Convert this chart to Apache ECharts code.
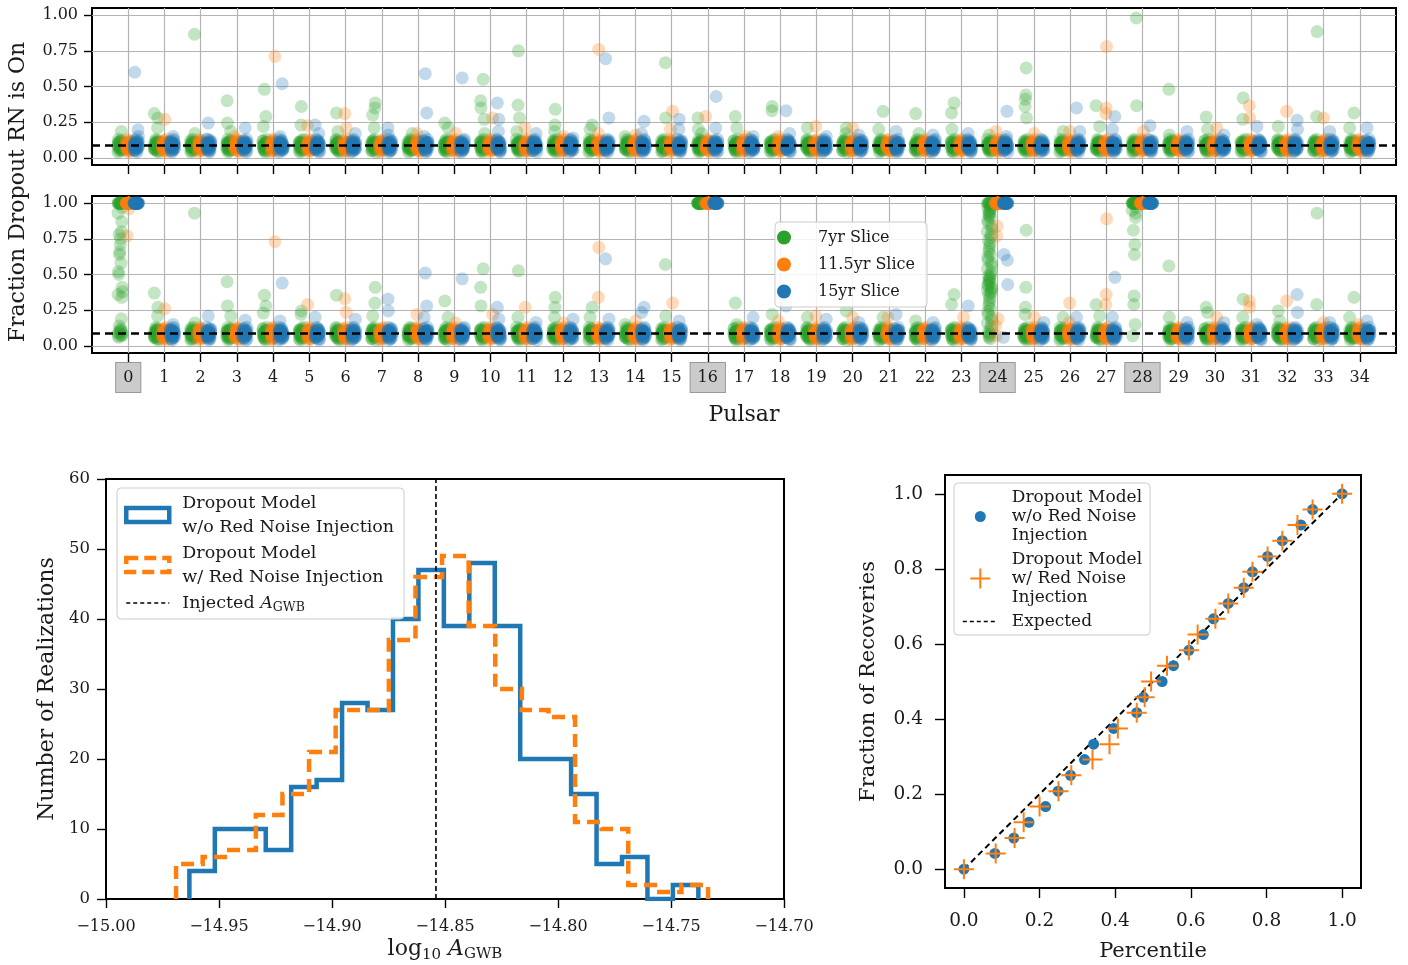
<!DOCTYPE html>
<html><head><meta charset="utf-8">
<script src="https://cdn.jsdelivr.net/npm/echarts@6/dist/echarts.min.js"></script>
<style>html,body{margin:0;padding:0;background:#fff}#c{width:1408px;height:965px}</style>
</head><body><div id="c"></div>
<script>
// ---------------- DATA ----------------
const slices = ['7yr Slice', '11.5yr Slice', '15yr Slice'];
const sliceColors = ['#2ca02c', '#ff7f0e', '#1f77b4'];
const pulsarLabels = ['0','1','2','3','4','5','6','7','8','9','10','11','12','13','14','15','16','17','18','19','20','21','22','23','24','25','26','27','28','29','30','31','32','33','34'];
const pulsarTicks = [0,1,2,3,4,5,6,7,8,9,10,11,12,13,14,15,16,17,18,19,20,21,22,23,24,25,26,27,28,29,30,31,32,33,34];
const highlightedPulsars = [0, 16, 24, 28];
const stripYTicks = [0, 0.25, 0.5, 0.75, 1.0];
const threshold = 0.09;

// typical dense cluster of realizations near the threshold
const coreValues = [0.04,0.05,0.06,0.07,0.08,0.09,0.10,0.11,0.12,0.13,0.05,0.06,0.07,0.08,0.09,0.10,0.11,0.12,0.06,0.07,0.08,0.09,0.10,0.11,0.07,0.08,0.09,0.10];
const allOn = [1,1,1,1,1,1,1,1,1,1,1,1,1,1,1,1,1,1,1,1,1,1,1,1];

// top panel outliers (per pulsar)
const top7 = [[0.185],[0.31,0.28,0.21],[0.866,0.17],[0.40,0.244,0.185],[0.48,0.29,0.22],[0.36,0.23],[0.315,0.185],[0.385,0.35,0.30,0.21],[0.17],[0.244,0.21],
  [0.55,0.40,0.35,0.27,0.17],[0.75,0.37,0.28,0.185],[0.34,0.23,0.185],[0.23,0.20],[0.15],[0.667,0.28],[0.28,0.20,0.17],[0.29,0.21],[0.36,0.33],[0.21],
  [0.21,0.17],[0.326,0.20],[0.31,0.17],[0.385,0.315,0.20],[0.16],[0.63,0.44,0.41,0.36,0.28],[0.185],[0.366,0.22],[0.98,0.366],[0.48,0.16],
  [0.286,0.20],[0.42,0.27],[0.22],[0.885,0.29],[0.315,0.21]];
const top115 = [[],[0.27],[],[0.15],[0.71],[0.225],[0.31,0.21],[],[0.17],[0.17],
  [0.28],[0.21],[0.15],[0.76,0.17],[0.16],[0.326,0.20],[0.29],[0.15],[0.15],[0.22],
  [0.21],[],[],[],[0.185],[0.17],[0.185],[0.78,0.35,0.31],[0.185],[],
  [0.21],[0.366,0.28],[0.326],[0.28],[]];
const top15 = [[0.60,0.197,0.15],[0.15],[0.244,0.13],[0.21],[0.52,0.15],[0.23,0.17],[0.17],[0.21,0.16],[0.59,0.315,0.15],[0.56],
  [0.385,0.27,0.185],[0.17],[0.14],[0.695,0.28],[0.256,0.17],[0.27,0.20],[0.43,0.21],[0.15],[0.33,0.17],[0.15],
  [0.16],[0.185],[0.16],[0.17],[0.326,0.15],[],[0.35,0.185],[0.29,0.20],[0.225],[0.185],
  [0.16],[0.22],[0.263,0.20],[0.185],[0.21]];

// bottom panel outliers (per pulsar; special pulsars given separately)
const bot7 = [[],[0.37,0.27,0.21],[0.93,0.16],[0.45,0.28,0.21],[0.355,0.28,0.23],[0.245,0.22],[0.355],[0.41,0.30,0.21],[],[0.315,0.20],
  [0.54,0.41,0.28],[0.526,0.20],[0.34,0.27,0.20],[0.27,0.20],[0.15],[0.57,0.21],[],[0.30,0.15],[0.22],[0.20],
  [0.245],[0.20],[0.175],[0.36,0.29],[],[0.81,0.41,0.27,0.22],[0.20],[0.29,0.21],[],[0.56,0.20],
  [0.27,0.234],[0.327,0.20],[0.245,0.175],[0.93,0.29],[0.34,0.20]];
const bot115 = [[],[0.26],[],[],[0.73],[0.29],[0.33,0.235],[],[0.22],[0.16],
  [0.22],[0.27],[0.16],[0.69,0.34],[0.175],[0.30],[],[],[0.175],[0.21],
  [0.20],[0.20],[],[0.20],[],[0.20],[0.30,0.164],[0.89,0.36,0.29],[],[],
  [0.20],[0.315,0.27],[0.315],[0.164],[0.15]];
const bot15 = [[],[0.15],[0.21],[0.18],[0.44,0.175],[0.20],[0.187],[0.327,0.245],[0.51,0.28,0.20],[0.47],
  [0.27,0.187],[0.164],[0.187],[0.61,0.187],[0.27,0.234],[0.175],[],[0.20],[0.28],[0.187],
  [0.164],[0.22],[0.164],[0.28],[],[0.164],[0.20],[0.48,0.20],[],[0.164],
  [0.164],[0.15],[0.36,0.234],[0.164],[0.175]];

const bot7Special = {
  0: [1,1,1,1,1,1,1,1,1,1,1,1,0.97,0.93,0.87,0.80,0.78,0.75,0.71,0.66,0.64,0.58,0.52,0.50,0.41,0.38,0.36,0.34,0.19,0.14,0.12,0.11,0.10,0.09,0.08,0.07,0.06,0.10,0.08,0.09,0.07],
  16: allOn,
  24: [1,1,1,1,1,1,1,1,0.99,0.98,0.97,0.96,0.95,0.94,0.93,0.92,0.91,0.90,0.88,0.86,0.84,0.82,0.80,0.78,0.76,0.74,0.72,0.70,0.68,0.66,0.64,0.62,0.60,0.58,0.56,0.54,0.52,0.50,0.49,0.48,0.47,0.46,0.45,0.44,0.43,0.42,0.41,0.40,0.39,0.38,0.37,0.36,0.34,0.32,0.30,0.28,0.26,0.24,0.22,0.20,0.18,0.16,0.14,0.12,0.10,0.09,0.08,0.07,0.06,0.05],
  28: [1,1,1,1,1,1,1,1,1,1,1,1,1,1,1,1,0.97,0.95,0.93,0.90,0.81,0.71,0.64,0.35,0.29,0.15,0.07]
};
const bot115Special = {
  0: allOn.concat([0.96, 0.77]),
  16: allOn,
  24: allOn.concat([0.84, 0.77, 0.19, 0.14, 0.07]),
  28: allOn
};
const bot15Special = {
  0: allOn,
  16: allOn,
  24: allOn.concat([0.64, 0.60, 0.43, 0.06]),
  28: allOn
};

// histogram (20 bins each)
const woRange = [-14.9631, -14.7379];
const woCounts = [4,10,10,7,16,17,28,27,40,47,39,48,39,20,20,15,5,6,0,2];
const wRange = [-14.9690, -14.7336];
const wCounts = [5,6,7,12,15,21,27,27,37,46,49,39,30,27,26,11,10,2,1,2];
const injectedLogA = -14.854;
const histYMax = 60;

// P-P plot
const ppFraction = [0,0.042,0.083,0.125,0.167,0.208,0.25,0.292,0.333,0.375,0.417,0.458,0.5,0.542,0.583,0.625,0.667,0.708,0.75,0.792,0.833,0.875,0.917,0.958,1.0];
const ppPercentileWo = [0,0.082,0.132,0.172,0.216,0.249,0.282,0.319,0.343,0.396,0.457,0.475,0.524,0.554,0.595,0.633,0.660,0.699,0.740,0.763,0.803,0.842,0.891,0.922,1.0];
const ppPercentileW = [0,0.084,0.134,0.158,0.200,0.250,0.284,0.340,0.385,0.407,0.457,0.478,0.495,0.537,0.595,0.618,0.665,0.699,0.740,0.763,0.803,0.842,0.882,0.922,1.0];
const ppTicks = [0, 0.2, 0.4, 0.6, 0.8, 1.0];
const expectedLine = [[0, 0], [1, 1]];

// ---------------- BUILD ----------------
const FONT = 'DejaVu Serif';
const TXT = '#1a1a1a';
const dodge = [-0.22, 0, 0.22];
const jitter = [-0.06, 0.02, -0.03, 0.05, -0.01, 0.04, -0.05, 0.01, 0.06, -0.02, 0.03, -0.04, 0];

function clusterPoints(outliers, special, s) {
  const pts = [];
  outliers.forEach((outl, i) => {
    const vals = special[i] !== undefined ? special[i] : coreValues.concat(outl);
    vals.forEach((v, j) => {
      pts.push([i + dodge[s] + jitter[(j * 5 + i * 3 + s * 7) % jitter.length], v]);
    });
  });
  return pts;
}
function stepLine(range, counts) {
  const w = (range[1] - range[0]) / counts.length;
  const pts = [[range[0], 0]];
  counts.forEach((c, i) => { pts.push([range[0] + i * w, c], [range[0] + (i + 1) * w, c]); });
  pts.push([range[1], 0]);
  return pts;
}

const panelData = [
  [[top7, {}], [top115, {}], [top15, {}]],
  [[bot7, bot7Special], [bot115, bot115Special], [bot15, bot15Special]]
];

const series = [];
panelData.forEach((panel, p) => {
  panel.forEach(([outl, spec], s) => {
    const ser = {
      type: 'scatter', name: slices[s], xAxisIndex: p, yAxisIndex: p,
      data: clusterPoints(outl, spec, s),
      symbol: 'circle', symbolSize: 13,
      itemStyle: { color: sliceColors[s], opacity: 0.28 },
      z: 2, silent: true, progressive: 0, large: false
    };
    if (s === 0) {
      ser.markLine = {
        z: 1, silent: true, symbol: ['none', 'none'], label: { show: false },
        lineStyle: { color: '#b3b3b3', width: 1.2, type: 'solid' },
        data: stripYTicks.map(v => ({ yAxis: v }))
      };
    }
    if (s === 2) {
      ser.markLine = {
        z: 6, silent: true, symbol: ['none', 'none'], label: { show: false },
        lineStyle: { color: '#000', width: 2.6, type: [8, 5] },
        data: [{ yAxis: threshold }]
      };
    }
    series.push(ser);
  });
});

series.push({
  type: 'line', name: 'hist_wo', xAxisIndex: 2, yAxisIndex: 2, data: stepLine(woRange, woCounts),
  symbol: 'none', lineStyle: { color: '#1f77b4', width: 4.5, join: 'miter', cap: 'butt' },
  itemStyle: { color: '#1f77b4' }, z: 2
});
series.push({
  type: 'line', name: 'hist_w', xAxisIndex: 2, yAxisIndex: 2, data: stepLine(wRange, wCounts),
  symbol: 'none', lineStyle: { color: '#ff7f0e', width: 4.5, type: [13, 7], join: 'miter', cap: 'butt' },
  itemStyle: { color: '#ff7f0e' }, z: 3
});
series.push({
  type: 'line', name: 'injected', xAxisIndex: 2, yAxisIndex: 2,
  data: [[injectedLogA, 0], [injectedLogA, histYMax]],
  symbol: 'none', lineStyle: { color: '#000', width: 1.6, type: [5, 3] }, itemStyle: { color: '#000' }, z: 4
});
series.push({
  type: 'line', name: 'expected', xAxisIndex: 3, yAxisIndex: 3, data: expectedLine,
  symbol: 'none', lineStyle: { color: '#000', width: 2, type: [6, 4] }, itemStyle: { color: '#000' }, z: 2
});
series.push({
  type: 'scatter', name: 'pp_wo', xAxisIndex: 3, yAxisIndex: 3,
  data: ppPercentileWo.map((x, i) => [x, ppFraction[i]]),
  symbol: 'circle', symbolSize: 11, itemStyle: { color: '#1f77b4', opacity: 1 }, z: 3
});
const plusPath = 'path://M9,0h2v20h-2zM0,9h20v2h-20z';
series.push({
  type: 'scatter', name: 'pp_w', xAxisIndex: 3, yAxisIndex: 3,
  data: ppPercentileW.map((x, i) => [x, ppFraction[i]]),
  symbol: plusPath, symbolSize: 20, itemStyle: { color: '#ff7f0e', opacity: 1 }, z: 4
});

const baseText = { fontFamily: FONT, color: TXT };
const tick = (len) => ({ show: true, length: len, inside: false, lineStyle: { color: '#000', width: 1.4 } });
const noLine = { show: false, onZero: false };
const minus = (v, d) => (v < 0 ? '\u2212' : '') + Math.abs(v).toFixed(d);

const xAxis = [0, 1].map(p => ({
  gridIndex: p, type: 'value', min: -1, max: 35, interval: 1, position: 'bottom',
  axisLine: noLine,
  axisTick: Object.assign(tick(9), { customValues: pulsarTicks }),
  splitLine: { show: true, lineStyle: { color: '#b3b3b3', width: 1.2 } },
  axisLabel: p === 0 ? { show: false } : {
    show: true, margin: 10, customValues: pulsarTicks,
    formatter: v => highlightedPulsars.indexOf(v) >= 0 ? '{hl|' + pulsarLabels[v] + '}' : '{n|' + pulsarLabels[v] + '}',
    rich: {
      n: { fontFamily: FONT, fontSize: 16, color: TXT, padding: [7, 7, 6, 7] },
      hl: { fontFamily: FONT, fontSize: 16, color: TXT, padding: [7, 7, 6, 7], backgroundColor: '#cbcbcb', borderColor: '#999', borderWidth: 1 }
    }
  },
  name: p === 1 ? 'Pulsar' : '', nameLocation: 'middle', nameGap: 51,
  nameTextStyle: Object.assign({ fontSize: 22 }, baseText)
}));
xAxis.push({
  gridIndex: 2, type: 'value', min: -15, max: -14.7, interval: 0.05, position: 'bottom',
  axisLine: noLine, axisTick: tick(9), splitLine: { show: false },
  axisLabel: Object.assign({ fontSize: 16, margin: 20, formatter: v => minus(v, 2) }, baseText),
  name: 'log{sub|10} {it|A}{sub2|GWB}', nameLocation: 'middle', nameGap: 37,
  nameTextStyle: Object.assign({
    fontSize: 22,
    rich: {
      sub: { fontFamily: FONT, fontSize: 15, color: TXT, lineHeight: 15, padding: [12, 0, 0, 0] },
      it: { fontFamily: FONT, fontSize: 22, fontStyle: 'italic', color: TXT },
      sub2: { fontFamily: FONT, fontSize: 15, color: TXT, lineHeight: 15, padding: [10, 0, 0, 0] }
    }
  }, baseText)
});
xAxis.push({
  gridIndex: 3, type: 'value', min: -0.05, max: 1.05, position: 'bottom',
  axisLine: noLine, axisTick: Object.assign(tick(10), { customValues: ppTicks }), splitLine: { show: false },
  axisLabel: Object.assign({ fontSize: 18.5, margin: 24, customValues: ppTicks, formatter: v => v.toFixed(1) }, baseText),
  name: 'Percentile', nameLocation: 'middle', nameGap: 53,
  nameTextStyle: Object.assign({ fontSize: 21 }, baseText)
});

const yAxis = [0, 1].map(p => ({
  gridIndex: p, type: 'value', min: -0.05, max: 1.05, position: 'left',
  axisLine: noLine,
  axisTick: Object.assign(tick(8), { customValues: stripYTicks }),
  splitLine: { show: false },
  axisLabel: Object.assign({ fontSize: 16, margin: 14, customValues: stripYTicks, formatter: v => v.toFixed(2) }, baseText)
}));
yAxis.push({
  gridIndex: 2, type: 'value', min: 0, max: histYMax, interval: 10, position: 'left',
  axisLine: noLine, axisTick: tick(9), splitLine: { show: false },
  axisLabel: Object.assign({ fontSize: 16.5, margin: 16 }, baseText),
  name: 'Number of Realizations', nameLocation: 'middle', nameGap: 48,
  nameTextStyle: Object.assign({ fontSize: 22 }, baseText)
});
yAxis.push({
  gridIndex: 3, type: 'value', min: -0.05, max: 1.05, position: 'left',
  axisLine: noLine, axisTick: Object.assign(tick(10), { customValues: ppTicks }), splitLine: { show: false },
  axisLabel: Object.assign({ fontSize: 18.5, margin: 22, customValues: ppTicks, formatter: v => v.toFixed(1) }, baseText),
  name: 'Fraction of Recoveries', nameLocation: 'middle', nameGap: 66,
  nameTextStyle: Object.assign({ fontSize: 21 }, baseText)
});

const gridBase = { show: true, borderColor: '#000', borderWidth: 2, backgroundColor: 'transparent', containLabel: false };
const grid = [
  Object.assign({ left: 92, top: 8, width: 1304, height: 157 }, gridBase),
  Object.assign({ left: 92, top: 196, width: 1304, height: 157 }, gridBase),
  Object.assign({ left: 106, top: 479, width: 678, height: 420 }, gridBase),
  Object.assign({ left: 945, top: 475, width: 416, height: 413 }, gridBase)
];

const histLegendText = {
  hist_wo: 'Dropout Model\nw/o Red Noise Injection',
  hist_w: 'Dropout Model\nw/ Red Noise Injection',
  injected: 'Injected {it|A}{sub|GWB}'
};
const ppLegendText = {
  pp_wo: 'Dropout Model\nw/o Red Noise\nInjection',
  pp_w: 'Dropout Model\nw/ Red Noise\nInjection',
  expected: 'Expected'
};
const legendBox = { backgroundColor: 'rgba(255,255,255,0.85)', borderColor: '#cccccc', borderWidth: 1, borderRadius: 4, selectedMode: false, orient: 'vertical' };

const legend = [
  Object.assign({
    left: 775, top: 222, itemWidth: 58, itemHeight: 14, itemGap: 8, padding: [6, 12, 6, 2],
    data: slices.map((n, i) => ({ name: n, icon: 'circle', itemStyle: { color: sliceColors[i], opacity: 1, borderWidth: 0 } })),
    textStyle: { fontFamily: FONT, fontSize: 16, color: TXT, lineHeight: 19 }
  }, legendBox),
  Object.assign({
    left: 117, top: 488, itemWidth: 43, itemHeight: 14, itemGap: 2, padding: [3, 10, 4, 7],
    data: [
      { name: 'hist_wo', icon: 'rect', itemStyle: { color: 'rgba(0,0,0,0)', borderColor: '#1f77b4', borderWidth: 4.5, opacity: 1 } },
      { name: 'hist_w', icon: 'rect', itemStyle: { color: 'rgba(0,0,0,0)', borderColor: '#ff7f0e', borderWidth: 4.5, borderType: [12, 6], opacity: 1 } },
      { name: 'injected', icon: 'line', itemStyle: { color: '#000', borderColor: '#000', borderWidth: 1.6, borderType: [4, 3], opacity: 1 } }
    ],
    formatter: n => histLegendText[n],
    textStyle: {
      fontFamily: FONT, fontSize: 17.5, color: TXT, lineHeight: 24, padding: [0, 0, 0, 8],
      rich: {
        it: { fontFamily: FONT, fontSize: 17.5, fontStyle: 'italic', color: TXT, lineHeight: 24 },
        sub: { fontFamily: FONT, fontSize: 12.5, color: TXT, lineHeight: 12, padding: [9, 0, 0, 0] }
      }
    }
  }, legendBox),
  Object.assign({
    left: 954, top: 483, itemWidth: 35, itemHeight: 20, itemGap: 5, padding: [5, 8, 4, 8],
    data: [
      { name: 'pp_wo', icon: 'path://M0,0M20,20M4.5,10a5.5,5.5 0 1,0 11,0a5.5,5.5 0 1,0 -11,0z', itemStyle: { color: '#1f77b4', opacity: 1 } },
      { name: 'pp_w', icon: plusPath, itemStyle: { color: '#ff7f0e', opacity: 1 } },
      { name: 'expected', icon: 'line', itemStyle: { color: '#000', borderColor: '#000', borderWidth: 1.6, borderType: [4, 3], opacity: 1 } }
    ],
    formatter: n => ppLegendText[n],
    textStyle: { fontFamily: FONT, fontSize: 17, color: TXT, lineHeight: 19, padding: [0, 0, 0, 9] }
  }, legendBox)
];

const option = {
  animation: false,
  backgroundColor: '#fff',
  grid, xAxis, yAxis, legend, series,
  graphic: [{
    type: 'text', x: 18, y: 192, rotation: Math.PI / 2,
    style: { text: 'Fraction Dropout RN is On', fontFamily: FONT, fontSize: 22, fill: TXT, align: 'center', verticalAlign: 'middle' }
  }]
};

const chart = echarts.init(document.getElementById('c'), null, { renderer: 'canvas' });
chart.setOption(option);
</script>
</body></html>
